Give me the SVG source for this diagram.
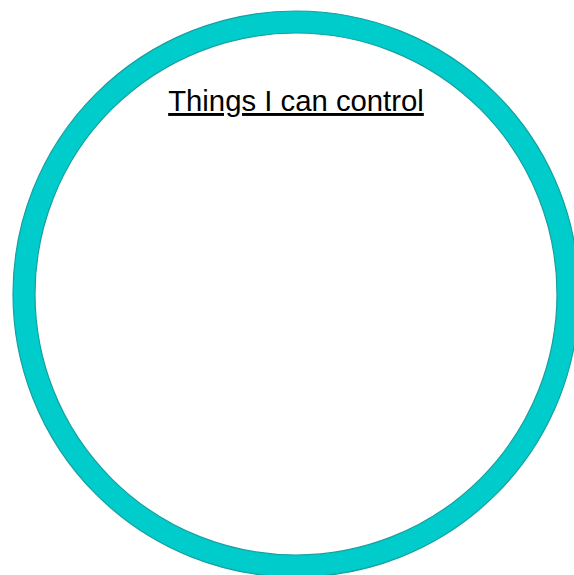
<svg xmlns="http://www.w3.org/2000/svg" width="574" height="575" viewBox="0 0 574 575">
<style>
.ring{fill:none;stroke:#00cccc;stroke-width:22}
.edge{fill:none;stroke:#16a0a0;stroke-width:1.2}
.label{font-family:"Liberation Sans",Arial,sans-serif;font-size:29.3px;fill:#000;text-decoration:underline}
</style>
<rect width="574" height="575" fill="#fff"/>
<g id="circle">
<circle class="ring" cx="296" cy="294" r="272"/>
<circle class="edge" cx="296" cy="294" r="283"/>
<circle class="edge" cx="296" cy="294" r="261"/>
</g>
<g id="title">
<text class="label" x="296" y="111" text-anchor="middle">Things I can control</text>
</g>
</svg>
